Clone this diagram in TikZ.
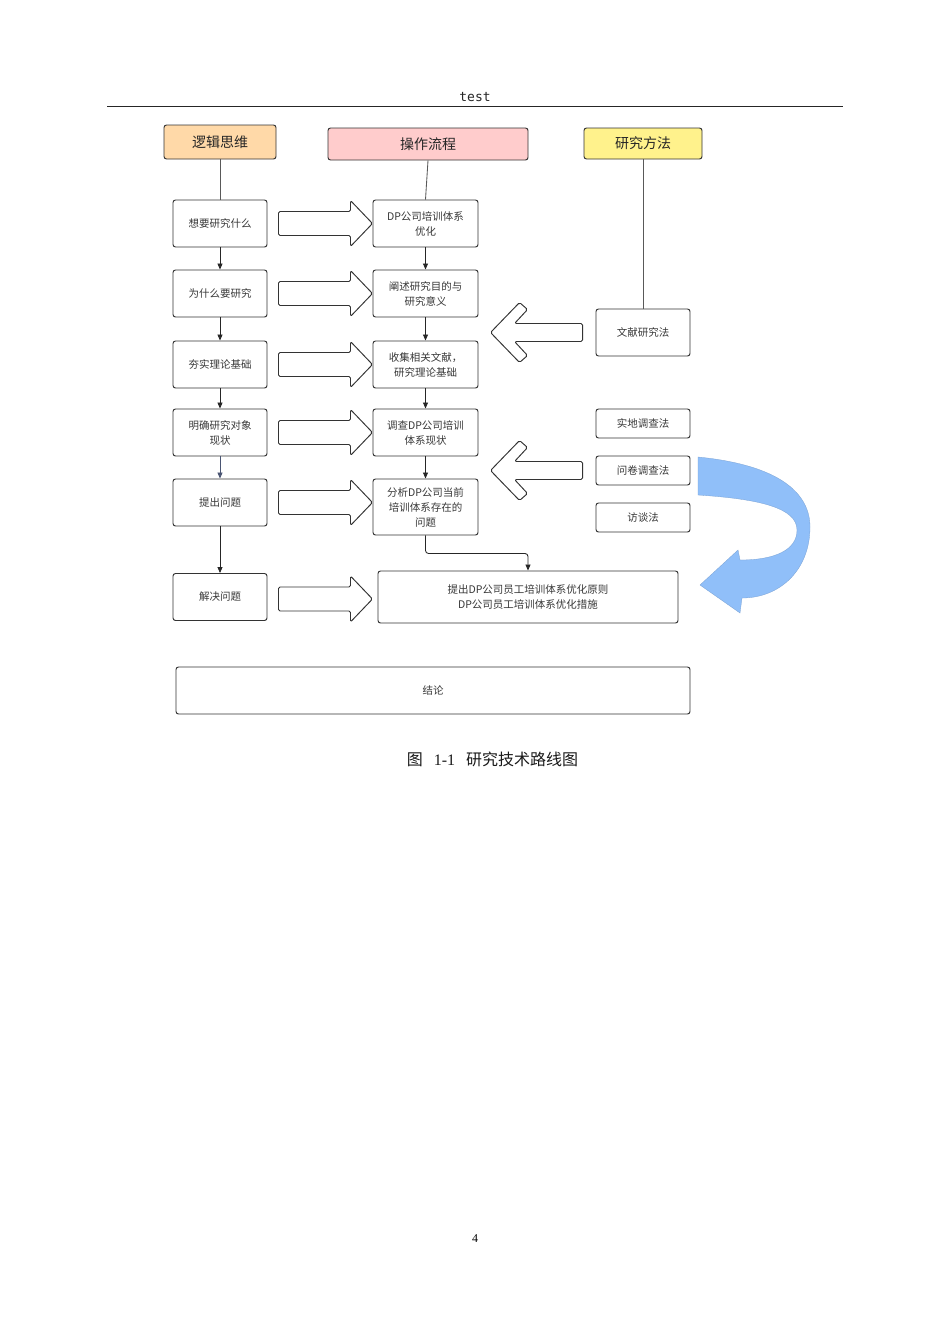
\documentclass[tikz,border=0pt]{standalone}
\usepackage{fontspec}
\newfontfamily\cjk{Noto Sans CJK SC}
\newfontfamily\monof{DejaVu Sans Mono}
\newfontfamily\seriff{Liberation Serif}
\usetikzlibrary{arrows.meta}
\definecolor{peach}{RGB}{255,217,168}
\definecolor{pinkc}{RGB}{255,204,204}
\definecolor{yellowc}{RGB}{255,242,140}
\definecolor{bluearrow}{RGB}{144,191,249}
\definecolor{slatec}{RGB}{74,85,115}
\newcommand\blockright[1]{\draw[blockR,#1] (11,-12) -- (83,-12) -- (83,-23) -- (105,0) -- (83,23) -- (83,12) -- (11,12) -- cycle;}
\newcommand\blockleft[1]{\draw[blockR,#1] (-13,-9) -- (-81,-9) -- (-68,-23) -- (-76,-30) -- (-105,0) -- (-76,30) -- (-68,23) -- (-81,9) -- (-13,9) -- cycle;}
\begin{document}
\begin{tikzpicture}[x=1pt,y=-1pt,
 box/.style={draw=black!80, line width=0.95pt, rounded corners=2.5pt, fill=white, font=\cjk\fontsize{10.5}{15}\selectfont, text=black!78, align=center, inner sep=0pt},
 hdr/.style={draw=black!80, line width=0.95pt, rounded corners=2.5pt, font=\cjk\fontsize{14}{16}\selectfont, text=black!85, inner sep=0pt},
 conn/.style={draw=black!85, line width=0.85pt, -{Triangle[length=6pt,width=5pt]}},
 plainline/.style={draw=black!65, line width=0.85pt},
 blockR/.style={draw=black!80, line width=0.95pt, fill=white, rounded corners=1.5pt, line join=round},
 bluearr/.style={fill=bluearrow, draw=bluearrow!85!black, line width=0.3pt}
]
\useasboundingbox[fill=white] (0,0) rectangle (950,1344);

% page header
\node[font=\monof\fontsize{13}{14}\selectfont, text=black!85] (hd) at (475,97) {test};
\draw[line width=1pt, black!85] (107,106) -- (843,106);

% column headers
\node[hdr, fill=peach, minimum width=112pt, minimum height=34pt] (h1) at (220,142) {逻辑思维};
\node[hdr, fill=pinkc, minimum width=200pt, minimum height=32pt] (h2) at (428,144) {操作流程};
\node[hdr, fill=yellowc, minimum width=118pt, minimum height=31pt] (h3) at (643,143.5) {研究方法};

% left column
\begin{scope}[every node/.append style={box, minimum width=94pt, minimum height=47pt}]
\node (l1) at (220,223.5) {想要研究什么};
\node (l2) at (220,293.5) {为什么要研究};
\node (l3) at (220,364.5) {夯实理论基础};
\node (l4) at (220,432.5) {明确研究对象\\现状};
\node (l5) at (220,502.5) {提出问题};
\node (l6) at (220,597) {解决问题};
\end{scope}

% middle column
\begin{scope}[every node/.append style={box, minimum width=105pt, minimum height=47pt}]
\node (m1) at (425.5,223.5) {DP公司培训体系\\优化};
\node (m2) at (425.5,293.5) {阐述研究目的与\\研究意义};
\node (m3) at (425.5,364.5) {收集相关文献，\\研究理论基础};
\node (m4) at (425.5,432.5) {调查DP公司培训\\体系现状};
\node[minimum height=56pt] (m5) at (425.5,507) {分析DP公司当前\\培训体系存在的\\问题};
\end{scope}
\node[box, minimum width=300pt, minimum height=52pt] (w) at (528,597) {提出DP公司员工培训体系优化原则\\DP公司员工培训体系优化措施};
\node[box, minimum width=514pt, minimum height=47pt] (c) at (433,690.5) {结论};

% right column
\node[box, minimum width=94pt, minimum height=47pt] (r1) at (643,332.5) {文献研究法};
\begin{scope}[every node/.append style={box, minimum width=94pt, minimum height=29pt}]
\node (r2) at (643,423.5) {实地调查法};
\node (r3) at (643,470.5) {问卷调查法};
\node (r4) at (643,517.5) {访谈法};
\end{scope}

% connectors
\draw[plainline] (h1.south) -- (l1.north);
\draw[plainline] (h2.south) -- (m1.north);
\draw[plainline] (h3.south) -- (r1.north);
\draw[conn] (l1) -- (l2);
\draw[conn] (l2) -- (l3);
\draw[conn] (l3) -- (l4);
\draw[conn, draw=slatec] (l4) -- (l5);
\draw[conn] (l5) -- (l6);
\draw[conn] (m1) -- (m2);
\draw[conn] (m2) -- (m3);
\draw[conn] (m3) -- (m4);
\draw[conn] (m4) -- (m5);
\draw[conn, rounded corners=3pt] (m5.south) -- ++(0,18) -| (w.north);

% block arrows
\blockright{shift={(l1.east)}}
\blockright{shift={(l2.east)}}
\blockright{shift={(l3.east)}}
\blockright{shift={(l4.east)}}
\blockright{shift={(l5.east)}}
\blockright{shift={(l6.east)}, shift={(0,2)}}
\blockleft{shift={(r1.west)}}
\blockleft{shift={(r3.west)}}

% curved blue arrow
\path[bluearr] (698,457) .. controls (770,464) and (810,488) .. (810,527)
  .. controls (810,570) and (780,598) .. (742,598) -- (740,613) -- (700,585)
  -- (738,550) -- (740,560) .. controls (775,560) and (797,550) .. (797,530)
  .. controls (797,508) and (760,499) .. (698,495) -- cycle;

% caption and page number
\node[font=\fontsize{16}{18}\selectfont, text=black!90] (cap) at (492.5,759) {{\cjk 图}\hspace{0.68em}{\seriff 1-1}\hspace{0.68em}{\cjk 研究技术路线图}};
\node[font=\seriff\fontsize{12}{14}\selectfont] (pg) at (475,1239) {4};
\end{tikzpicture}
\end{document}
